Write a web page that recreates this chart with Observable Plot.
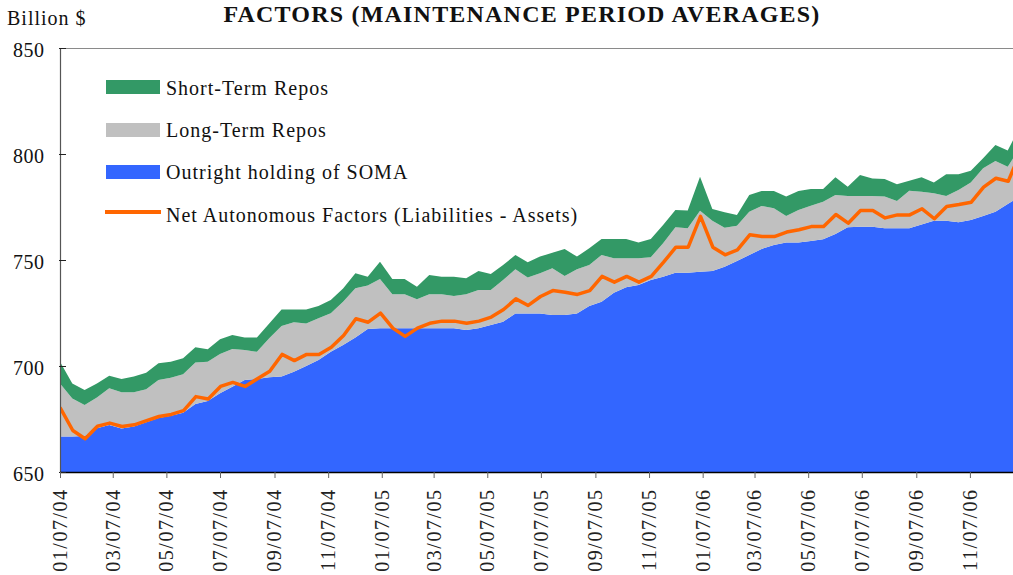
<!DOCTYPE html>
<html>
<head>
<meta charset="utf-8">
<script src="https://cdn.jsdelivr.net/npm/d3@7"></script>
<script src="https://cdn.jsdelivr.net/npm/@observablehq/plot@0.6"></script>
<style>
  body { margin: 0; background: #fff; }
  #wrap { position: relative; width: 1013px; height: 575px; overflow: hidden; font-family: "Liberation Serif", serif; color: #111; }
  .lbl { position: absolute; font-size: 20px; line-height: 1; white-space: nowrap; letter-spacing: 1px; }
  .title { position: absolute; left: 0; width: 1044px; text-align: center; top: 1.5px; font-size: 24px; line-height: 1; font-weight: bold; letter-spacing: 1.2px; white-space: nowrap; }
  .sw { position: absolute; left: 106px; width: 54px; height: 14px; }
  #chart svg { display: block; }
  g[aria-label="x-axis tick label"] text { letter-spacing: 1.5px; }
  g[aria-label="y-axis tick label"] text { letter-spacing: 0.5px; }
</style>
</head>
<body>
<div id="wrap">
  <div id="chart"></div>
  <div class="title">FACTORS (MAINTENANCE PERIOD AVERAGES)</div>
  <div class="lbl" style="left:7px; top:8px;">Billion $</div>
  <div class="sw" style="top:80px; background:#339966;"></div>
  <div class="lbl" style="left:166px; top:78px;">Short-Term Repos</div>
  <div class="sw" style="top:123px; background:#C0C0C0;"></div>
  <div class="lbl" style="left:166px; top:120px;">Long-Term Repos</div>
  <div class="sw" style="top:165px; background:#3366FF;"></div>
  <div class="lbl" style="left:166px; top:162px;">Outright holding of SOMA</div>
  <div style="position:absolute; left:105px; top:210px; width:56px; height:3.5px; background:#FF6600;"></div>
  <div class="lbl" style="left:166px; top:205px;">Net Autonomous Factors (Liabilities - Assets)</div>
</div>
<script>
// Maintenance periods (two-week), first period ending 01/07/04
const firstPeriod = "2004-01-07";
const axisEnd = "2006-12-26";

// Outright holdings of SOMA (billion $)
const soma = [666.7,666.7,667.0,670.6,672.2,670.5,671.5,673.5,675.5,676.5,
  678.0,682.1,683.5,687.1,690.2,693.4,693.9,694.7,695.0,697.3,
  700.0,702.8,706.7,709.9,713.5,717.5,717.8,717.8,717.8,717.8,
  717.8,717.8,717.8,717.0,717.8,719.3,720.9,724.8,724.8,724.8,
  724.1,724.1,724.8,728.3,730.3,734.6,737.1,738.2,740.6,742.1,
  744.0,744.0,744.5,744.8,746.8,749.5,752.4,755.2,757.1,758.2,
  758.2,759.0,759.8,762.3,765.4,765.7,765.7,765.0,765.0,765.0,
  766.8,768.5,768.5,767.8,768.9,770.8,772.8,776.4,780.0];

// Long-term repos (billion $)
const longTermRepos = [25.1,18.0,14.6,14.6,17.3,17.1,16.1,15.5,17.9,18.0,
  18.1,19.6,18.5,18.6,17.8,14.1,12.8,18.4,23.9,23.3,
  20.1,19.7,18.2,20.4,23.2,20.5,23.2,16.0,16.0,13.7,
  16.0,16.0,15.2,16.8,18.0,16.5,19.7,20.8,17.0,18.9,
  22.0,18.4,20.8,19.3,22.1,16.2,13.7,12.6,10.7,15.8,
  21.4,21.0,28.7,23.7,18.4,16.7,20.4,20.3,17.3,12.6,
  15.4,16.6,17.7,18.4,14.8,14.5,14.5,14.9,12.8,17.7,
  15.4,13.0,11.7,15.2,17.6,22.5,23.9,17.6,23.0];

// Short-term repos (billion $)
const shortTermRepos = [10.2,7.1,7.1,6.6,5.9,6.3,7.4,7.8,7.9,7.5,
  7.5,7.1,5.9,6.9,6.6,6.0,6.8,7.0,7.8,6.1,
  6.6,5.8,6.2,6.2,7.1,4.1,8.2,7.2,7.2,5.9,
  9.1,8.3,9.1,7.6,9.0,7.6,7.0,6.8,7.1,7.9,
  7.3,12.7,6.0,7.9,7.5,9.1,9.1,7.4,8.6,8.6,
  8.2,8.3,16.1,5.6,7.3,5.0,7.9,7.0,8.1,9.1,
  8.9,7.9,6.0,8.3,4.4,9.9,8.3,8.3,7.9,4.7,
  6.8,5.1,10.2,7.4,5.6,4.7,7.5,7.6,10.0];

// Net autonomous factors (liabilities - assets, billion $)
const netAutonomous = [680.3,669.8,665.9,671.8,673.3,671.7,672.5,674.5,676.4,677.4,
  679.2,685.8,684.7,690.6,692.5,690.6,694.2,697.8,705.7,702.8,
  705.7,705.7,709.1,714.6,722.5,720.9,725.2,718.1,714.2,718.1,
  720.4,721.4,721.4,720.4,721.4,723.3,726.9,731.9,728.8,733.0,
  735.8,735.0,734.0,735.8,742.5,739.8,742.5,739.8,742.5,749.2,
  756.3,756.3,770.8,756.3,752.7,755.0,762.1,761.3,761.3,763.4,
  764.5,766.0,766.0,771.7,767.6,773.6,773.6,770.1,771.5,771.5,
  774.4,769.7,775.5,776.4,777.5,784.6,788.8,787.4,801.0];

const seriesNames = ["Outright holding of SOMA", "Long-Term Repos", "Short-Term Repos"];
const seriesColors = ["#3366FF", "#C0C0C0", "#339966"];
const xTickLabels = ["01/07/04","03/07/04","05/07/04","07/07/04","09/07/04","11/07/04",
  "01/07/05","03/07/05","05/07/05","07/07/05","09/07/05","11/07/05",
  "01/07/06","03/07/06","05/07/06","07/07/06","09/07/06","11/07/06"];
const yTicks = [650, 700, 750, 800, 850];

const start = new Date(firstPeriod);
const dates = soma.map((_, i) => d3.utcDay.offset(start, 14 * i));
const parseTick = d3.utcParse("%m/%d/%y");
const xTicks = xTickLabels.map(parseTick);

const stackRows = [];
[soma, longTermRepos, shortTermRepos].forEach((arr, s) => {
  arr.forEach((v, i) => stackRows.push({date: dates[i], value: v, series: seriesNames[s]}));
});
const nafRows = netAutonomous.map((v, i) => ({date: dates[i], value: v}));

const chart = Plot.plot({
  width: 1013,
  height: 575,
  marginLeft: 60,
  marginRight: 0,
  marginTop: 48,
  marginBottom: 103,
  style: {fontFamily: "Liberation Serif, serif", fontSize: "20px", color: "#111", background: "#fff"},
  x: {type: "utc", domain: [start, new Date(axisEnd)]},
  y: {domain: [650, 850]},
  color: {domain: seriesNames, range: seriesColors},
  marks: [
    Plot.areaY(stackRows, Plot.stackY({x: "date", y: "value", fill: "series", z: "series", order: seriesNames, clip: true})),
    Plot.lineY(nafRows, {x: "date", y: "value", stroke: "#FF6600", strokeWidth: 3.5, clip: true}),
    Plot.ruleY([850], {stroke: "#8a8a8a", strokeWidth: 1.2}),
    Plot.ruleX([start], {stroke: "#555", strokeWidth: 1.2}),
    Plot.ruleY([650], {stroke: "#000", strokeWidth: 1.5}),
    Plot.axisY({ticks: yTicks, tickSize: 7, insetLeft: 6, tickFormat: () => "", label: null, stroke: "#222"}),
    Plot.axisY({ticks: yTicks, tickSize: 0, tickPadding: 16, dy: 2, fontSize: 20, label: null, fill: "#111"}),
    Plot.axisX({ticks: xTicks, tickFormat: d3.utcFormat("%m/%d/%y"), tickRotate: -90, tickSize: 6, tickPadding: 10, fontSize: 20, label: null, stroke: "#666", fill: "#222"})
  ]
});
document.getElementById("chart").appendChild(chart);
</script>
</body>
</html>
